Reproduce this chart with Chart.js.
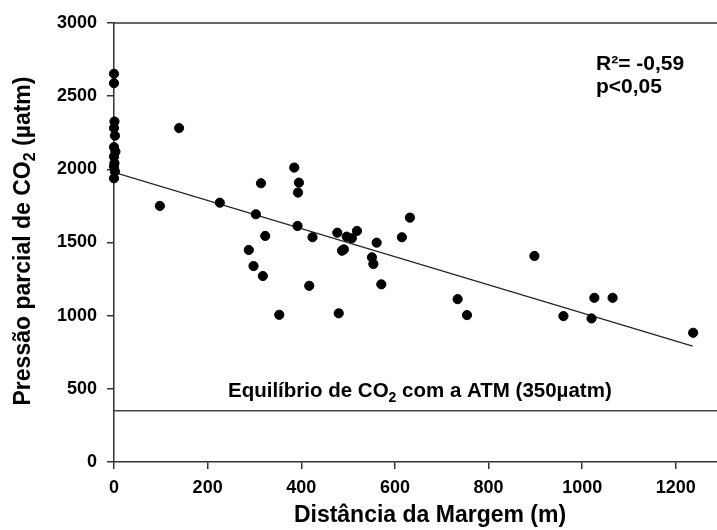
<!DOCTYPE html>
<html>
<head>
<meta charset="utf-8">
<script src="https://cdn.jsdelivr.net/npm/chart.js@4.4.1/dist/chart.umd.min.js"></script>
<style>
  body { margin: 0; background: #fff; }
  #wrap { width: 717px; height: 530px; position: relative; }
</style>
</head>
<body>
<div id="wrap"><canvas id="myChart"></canvas></div>
<script>
//Distance from the river margin (m) for every sample.
let distance = [0, 0, 1, 0, 2, 0, 3, 0, 1, 0, 2, 0,
  98, 139, 226, 303, 314, 385, 395, 393, 392, 323, 288, 298, 318, 353,
  424, 477, 497, 508, 519, 487, 491, 561, 615, 632, 551, 554, 571, 417, 480,
  734, 754, 898, 1026, 1065, 960, 1020, 1237];

//Partial pressure of CO2 (uatm) for every sample.
let pco2 = [2653, 2589, 2327, 2282, 2230, 2152, 2121, 2087, 2042, 2019, 1985, 1939,
  1750, 2282, 1772, 1693, 1905, 2012, 1909, 1841, 1613, 1545, 1449, 1339, 1271, 1006,
  1536, 1567, 1540, 1529, 1579, 1444, 1453, 1499, 1536, 1670, 1399, 1353, 1214, 1204, 1016,
  1113, 1004, 1408, 1122, 1122, 997, 981, 883];

//Regression line end points.
let trendX = [0, 1236];
let trendY = [1980, 792];

//Atmospheric equilibrium line.
let equilibrium = 350;
let xMax = 1288;

let xTicks = [0, 200, 400, 600, 800, 1000, 1200];
let yTicks = [0, 500, 1000, 1500, 2000, 2500, 3000];

let font = "'Liberation Sans', Arial, sans-serif";

//Draw text with a lowered "2" after the given part.
function drawSub(ctx, before, after, x, y, size, align) {
  ctx.font = "bold " + size + "px " + font;
  let w1 = ctx.measureText(before).width;
  let w3 = ctx.measureText(after).width;
  ctx.font = "bold " + Math.round(size * 0.68) + "px " + font;
  let w2 = ctx.measureText("2").width;
  let total = w1 + w2 + w3;
  let start = align === "center" ? x - total / 2 : x;

  ctx.textAlign = "left";
  ctx.textBaseline = "alphabetic";
  ctx.font = "bold " + size + "px " + font;
  ctx.fillText(before, start, y);
  ctx.font = "bold " + Math.round(size * 0.68) + "px " + font;
  ctx.fillText("2", start + w1, y + size * 0.22);
  ctx.font = "bold " + size + "px " + font;
  ctx.fillText(after, start + w1 + w2, y);
}

//Texts and the top frame line.
let extras = {
  id: "extras",
  afterDraw(chart) {
    let ctx = chart.ctx;
    let area = chart.chartArea;
    ctx.save();
    ctx.fillStyle = "#000";

    //Top frame line.
    ctx.strokeStyle = "#333";
    ctx.lineWidth = 1.5;
    ctx.beginPath();
    ctx.moveTo(area.left, area.top);
    ctx.lineTo(chart.width, area.top);
    ctx.stroke();

    //Y axis title, rotated.
    ctx.save();
    ctx.translate(30, 241);
    ctx.rotate(-Math.PI / 2);
    drawSub(ctx, "Pressão parcial de CO", " (µatm)", 0, 0, 23, "center");
    ctx.restore();

    //X axis title.
    ctx.font = "bold 23px " + font;
    ctx.textAlign = "center";
    ctx.textBaseline = "alphabetic";
    ctx.fillText("Distância da Margem (m)", 430, 522);

    //Equilibrium label.
    drawSub(ctx, "Equilíbrio de CO", " com a ATM (350µatm)", 228, 397, 20.5, "left");

    //Statistics.
    ctx.font = "bold 21px " + font;
    ctx.textAlign = "left";
    ctx.fillText("R²= -0,59", 596, 70);
    ctx.fillText("p<0,05", 596, 93);

    ctx.restore();
  }
};

let points = distance.map((d, i) => {
  return { x: d, y: pco2[i] };
});

let ctx = document.getElementById("myChart").getContext("2d");

let myChart = new Chart(ctx, {
  type: "scatter",
  data: {
    datasets: [
      {
        label: "pCO2",
        data: points,
        backgroundColor: "#000",
        borderColor: "#000",
        pointRadius: 4.6,
        pointHoverRadius: 4.6,
        clip: false
      },
      {
        label: "Tendência",
        type: "line",
        data: trendX.map((d, i) => ({ x: d, y: trendY[i] })),
        borderColor: "#222",
        borderWidth: 1.2,
        pointRadius: 0,
        fill: false
      },
      {
        label: "Equilíbrio",
        type: "line",
        data: [{ x: 0, y: equilibrium }, { x: xMax, y: equilibrium }],
        borderColor: "#444",
        borderWidth: 1.6,
        pointRadius: 0,
        fill: false
      }
    ]
  },
  options: {
    responsive: true,
    maintainAspectRatio: false,
    devicePixelRatio: 1,
    animation: false,
    layout: { autoPadding: false, padding: { top: 23, right: 0, left: 0, bottom: 0 } },
    plugins: {
      legend: { display: false },
      tooltip: { enabled: false }
    },
    scales: {
      x: {
        type: "linear",
        min: 0,
        max: xMax,
        afterBuildTicks: axis => {
          axis.ticks = xTicks.map(v => ({ value: v }));
        },
        afterFit: axis => {
          axis.height = 68;
          axis.paddingLeft = 0;
          axis.paddingRight = 0;
        },
        grid: { drawOnChartArea: false, drawTicks: true, tickLength: 7, color: "#333", lineWidth: 1.5 },
        border: { display: true, color: "#333", width: 1.5 },
        ticks: {
          color: "#000",
          padding: 8,
          maxRotation: 0,
          callback: v => String(v),
          font: { family: font, size: 18, weight: "bold" }
        }
      },
      y: {
        min: 0,
        max: 3000,
        afterBuildTicks: axis => {
          axis.ticks = yTicks.map(v => ({ value: v }));
        },
        afterFit: axis => {
          axis.width = 114;
        },
        grid: { drawOnChartArea: false, drawTicks: true, tickLength: 7, color: "#333", lineWidth: 1.5 },
        border: { display: true, color: "#333", width: 1.5 },
        ticks: {
          color: "#000",
          padding: 10,
          callback: v => String(v),
          font: { family: font, size: 18, weight: "bold" }
        }
      }
    }
  },
  plugins: [extras]
});
</script>
</body>
</html>
